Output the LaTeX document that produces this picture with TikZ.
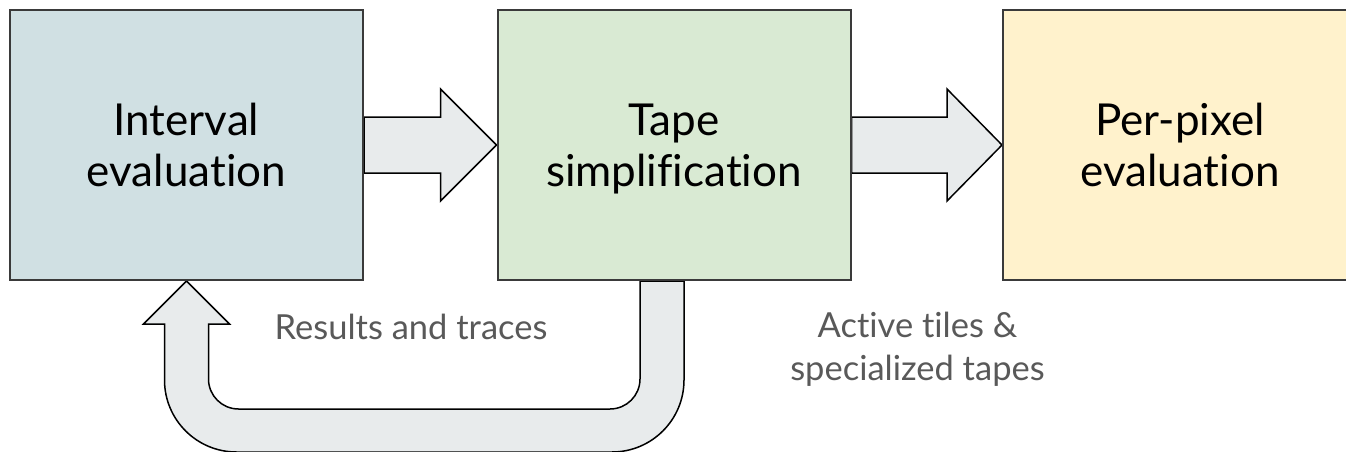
\documentclass[tikz,border=0pt]{standalone}
\usepackage{fontspec}
\setmainfont{Lato}[Ligatures=CommonOff]
\usepackage{xcolor}
\usetikzlibrary{calc}
\usetikzlibrary{backgrounds}
\definecolor{ivalfill}{HTML}{D0E0E3}
\definecolor{tapefill}{HTML}{D9EAD3}
\definecolor{pixelfill}{HTML}{FFF2CC}
\definecolor{flowfill}{HTML}{E8EBEC}
\definecolor{notegray}{HTML}{595959}
\definecolor{boxline}{HTML}{3A3A3A}

\begin{document}
\begin{tikzpicture}[x=1pt, y=-1pt,
  stagebox/.style={draw=boxline, line width=2pt, minimum width=353pt, minimum height=270pt, inner sep=0pt, align=center, font=\fontsize{44}{51}\selectfont},
  flowarrow/.style={draw=black, fill=flowfill, line width=1.5pt, line join=miter},
  notetext/.style={text=notegray, align=center, inner sep=0pt, font=\fontsize{34.5}{43}\selectfont}]
  \useasboundingbox (0,0) rectangle (1346,452);
  \node[stagebox, fill=ivalfill] (ival) at (186.5,145) {Interval\\evaluation};
  \node[stagebox, fill=tapefill] (tape) at (674,145) {Tape\\\smash{simplification}};
  \node[stagebox, fill=pixelfill, minimum width=354pt] (pixel) at (1180,145) {Per-pixel\\evaluation};
  \node[notetext, anchor=base] (tracenote) at (411,339) {Results and traces};
  \node[notetext, anchor=base] (tilenote) at (917.5,380) {Active tiles \&\\specialized tapes};
  \coordinate (fbin) at ($(tape.south)+(-12,0)$);
  \begin{pgfonlayer}{background}
  \draw[flowarrow] ($(ival.east)+(0,-28)$) -- ($(tape.west)+(-56,-28)$) -- ($(tape.west)+(-56,-56)$) -- (tape.west) -- ($(tape.west)+(-56,56)$) -- ($(tape.west)+(-56,28)$) -- ($(ival.east)+(0,28)$) -- cycle;
  \draw[flowarrow] ($(tape.east)+(0,-28)$) -- ($(pixel.west)+(-55,-28)$) -- ($(pixel.west)+(-55,-56)$) -- (pixel.west) -- ($(pixel.west)+(-55,56)$) -- ($(pixel.west)+(-55,28)$) -- ($(tape.east)+(0,28)$) -- cycle;
  \draw[flowarrow] ($(fbin)+(22,0)$) [rounded corners=72pt] -- ($(fbin)+(22,171)$) -- ($(ival.south)+(-22,171)$) [sharp corners] -- ($(ival.south)+(-22,43)$) -- ($(ival.south)+(-43,43)$) -- (ival.south) -- ($(ival.south)+(43,43)$) -- ($(ival.south)+(22,43)$) [rounded corners=30pt] -- ($(ival.south)+(22,128)$) -- ($(fbin)+(-22,128)$) [sharp corners] -- ($(fbin)+(-22,0)$) -- cycle;
  \end{pgfonlayer}
\end{tikzpicture}
\end{document}
